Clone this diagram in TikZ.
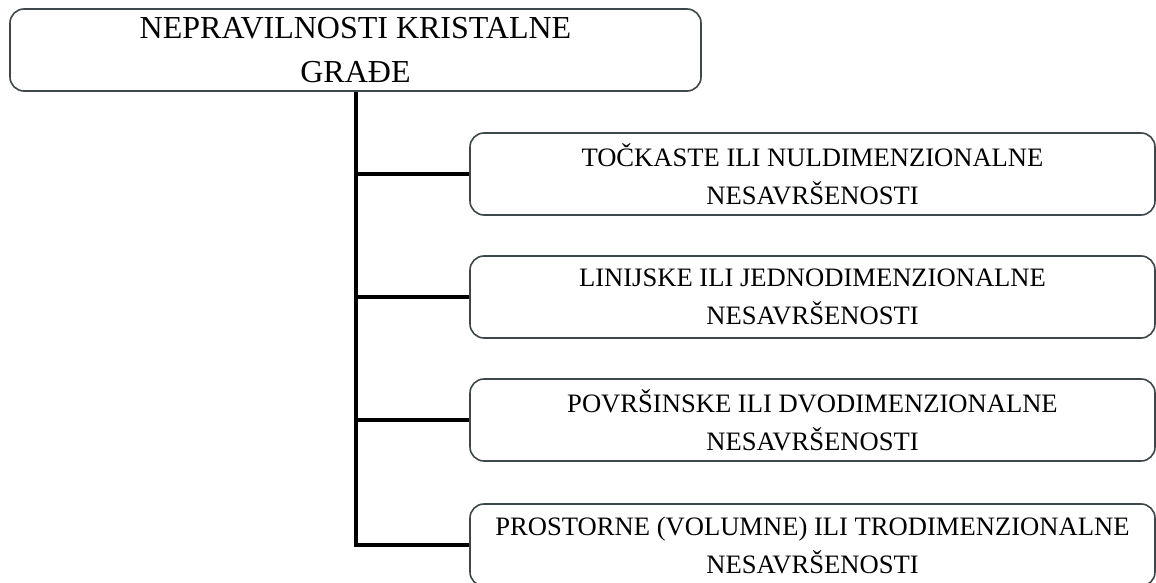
\documentclass[tikz,border=0pt]{standalone}
\usepackage{fontspec}
\setmainfont{Liberation Serif}
\definecolor{boxline}{RGB}{62,72,74}
\begin{document}
\begin{tikzpicture}[x=1pt,y=-1pt,
  boxstyle/.style={draw=boxline, line width=1.6pt, rounded corners=14pt, fill=white,
    inner sep=0pt, align=center, text=black},
  topbox/.style={boxstyle, minimum width=691pt, minimum height=82pt,
    font=\fontsize{32}{44}\selectfont},
  subbox/.style={boxstyle, minimum width=685pt, minimum height=82pt,
    font=\fontsize{26.6}{38}\selectfont},
  conn/.style={line width=4pt, black}]
\useasboundingbox (0,0) rectangle (1156,583);
\node[topbox] (top) at (355.5,50) {NEPRAVILNOSTI KRISTALNE\\GRAĐE};
\node[subbox] (b1) at (812.5,174) {TOČKASTE ILI NULDIMENZIONALNE\\NESAVRŠENOSTI};
\node[subbox] (b2) at (812.5,297) {LINIJSKE ILI JEDNODIMENZIONALNE\\NESAVRŠENOSTI};
\node[subbox] (b3) at (812.5,420) {POVRŠINSKE ILI DVODIMENZIONALNE\\NESAVRŠENOSTI};
\node[subbox] (b4) at (812.5,545) {PROSTORNE (VOLUMNE) ILI TRODIMENZIONALNE\\NESAVRŠENOSTI};
\draw[conn] (top.south) |- (b1.west);
\draw[conn] (top.south) |- (b2.west);
\draw[conn] (top.south) |- (b3.west);
\draw[conn] (top.south) |- (b4.west);
\end{tikzpicture}
\end{document}
